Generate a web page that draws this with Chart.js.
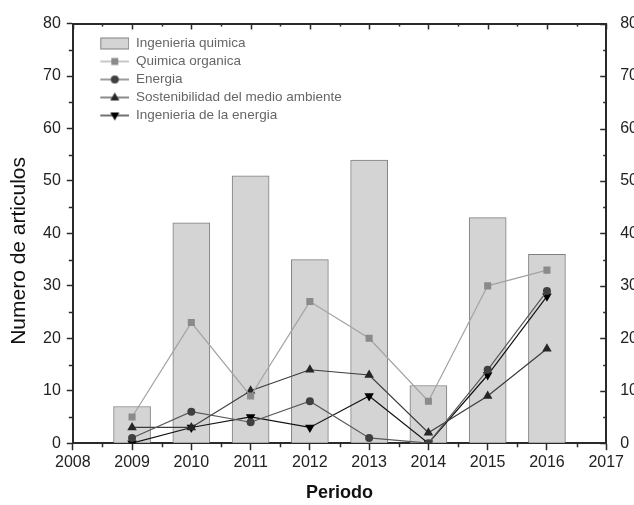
<!DOCTYPE html>
<html>
<head>
<meta charset="utf-8">
<script src="https://cdn.jsdelivr.net/npm/chart.js@4/dist/chart.umd.min.js"></script>
<style>
  html, body { margin: 0; padding: 0; background: #fff; overflow: hidden; }
  #wrap { position: absolute; left: 0; top: 0; width: 664px; height: 505px; }
</style>
</head>
<body>
<div id="wrap"><canvas id="chart" width="664" height="505"></canvas></div>
<script>
// data
const years = [2009, 2010, 2011, 2012, 2013, 2014, 2015, 2016];
const ingQuimica = [7, 42, 51, 35, 54, 11, 43, 36];
const quimOrganica = [5, 23, 9, 27, 20, 8, 30, 33];
const energia = [1, 6, 4, 8, 1, 0, 14, 29];
const sostenibilidad = [3, 3, 10, 14, 13, 2, 9, 18];
const ingEnergia = [0, 3, 5, 3, 9, 0, 13, 28];

const xTicks = [2008, 2017];
const yTicks = [0, 80];

const FONT = "'Liberation Sans', Arial, Helvetica, sans-serif";
const AXIS = '#2a2a2a';

const pts = (vals) => vals.map((v, i) => ({ x: years[i], y: v }));

// little legend icons: line with marker, or a filled box for the bars
function legendIcon(kind, lineColor, fill, shape) {
  const c = document.createElement('canvas');
  c.width = 52; c.height = 14;
  const g = c.getContext('2d');
  if (kind === 'bar') {
    g.fillStyle = fill;
    g.fillRect(23.5, 1.5, 29, 11);
    g.strokeStyle = '#7f7f7f';
    g.lineWidth = 1;
    g.strokeRect(23.5, 1.5, 28, 11);
    return c;
  }
  g.strokeStyle = lineColor;
  g.lineWidth = 1.2;
  g.beginPath(); g.moveTo(23, 7); g.lineTo(52, 7); g.stroke();
  g.fillStyle = fill;
  g.beginPath();
  const cx = 37.5, cy = 7;
  if (shape === 'rect') g.rect(cx - 3.5, cy - 3.5, 7, 7);
  else if (shape === 'circle') g.arc(cx, cy, 4, 0, Math.PI * 2);
  else if (shape === 'up') { g.moveTo(cx, cy - 5); g.lineTo(cx + 4.5, cy + 3); g.lineTo(cx - 4.5, cy + 3); }
  else { g.moveTo(cx, cy + 5); g.lineTo(cx + 4.5, cy - 3); g.lineTo(cx - 4.5, cy - 3); }
  g.closePath(); g.fill();
  return c;
}

const icons = [
  legendIcon('bar', null, '#d4d4d4'),
  legendIcon('line', '#a3a3a3', '#8a8a8a', 'rect'),
  legendIcon('line', '#595959', '#404040', 'circle'),
  legendIcon('line', '#3c3c3c', '#262626', 'up'),
  legendIcon('line', '#141414', '#000000', 'down')
];

// minor ticks + inward ticks on the mirrored top / right frame
const frameTicks = {
  id: 'frameTicks',
  afterDraw(chart) {
    const { ctx, chartArea: a } = chart;
    const x = chart.scales.x, y = chart.scales.y;
    ctx.save();
    ctx.strokeStyle = AXIS;
    ctx.lineWidth = 1.5;
    ctx.beginPath();
    for (let v = x.min; v <= x.max + 1e-9; v += 0.5) {
      const px = Math.round(x.getPixelForValue(v)) + 0.5;
      const major = Math.abs(v - Math.round(v)) < 1e-6;
      ctx.moveTo(px, a.top); ctx.lineTo(px, a.top + (major ? 6 : 3));
      if (!major) { ctx.moveTo(px, a.bottom); ctx.lineTo(px, a.bottom + 4); }
    }
    for (let v = y.min; v <= y.max + 1e-9; v += 5) {
      const py = Math.round(y.getPixelForValue(v)) + 0.5;
      const major = v % 10 === 0;
      ctx.moveTo(a.right, py); ctx.lineTo(a.right - (major ? 6 : 3), py);
      if (!major) { ctx.moveTo(a.left, py); ctx.lineTo(a.left - 4, py); }
    }
    ctx.stroke();
    ctx.restore();
  }
};

const lineDs = (label, vals, lineColor, fill, style, rot, r) => ({
  type: 'line',
  label,
  data: pts(vals),
  borderColor: lineColor,
  borderWidth: 1.2,
  backgroundColor: fill,
  pointBackgroundColor: fill,
  pointBorderColor: fill,
  pointBorderWidth: 0,
  pointStyle: style,
  pointRotation: rot,
  pointRadius: r,
  order: 0,
  tension: 0
});

new Chart(document.getElementById('chart'), {
  type: 'bar',
  data: {
    datasets: [
      {
        label: 'Ingenieria quimica',
        data: pts(ingQuimica),
        backgroundColor: '#d4d4d4',
        borderColor: '#7f7f7f',
        borderWidth: 1,
        barThickness: 37,
        order: 1
      },
      lineDs('Quimica organica', quimOrganica, '#a3a3a3', '#8a8a8a', 'rect', 0, 5),
      lineDs('Energia', energia, '#595959', '#404040', 'circle', 0, 4),
      lineDs('Sostenibilidad del medio ambiente', sostenibilidad, '#3c3c3c', '#262626', 'triangle', 0, 5.5),
      lineDs('Ingenieria de la energia', ingEnergia, '#141414', '#000000', 'triangle', 180, 5.5)
    ]
  },
  options: {
    responsive: false,
    devicePixelRatio: 1,
    animation: false,
    layout: { padding: { left: 7, right: 12, top: 13, bottom: 0 } },
    plugins: {
      tooltip: { enabled: false },
      legend: {
        position: 'chartArea',
        align: 'start',
        title: { display: true, text: '', padding: { top: 0, bottom: 31 }, font: { size: 1 } },
        labels: {
          usePointStyle: true,
          pointStyleWidth: 52,
          padding: 4.5,
          color: '#222',
          font: { size: 13.5, family: FONT },
          generateLabels: (chart) => chart.data.datasets.map((ds, i) => ({
            text: ds.label,
            pointStyle: icons[i],
            datasetIndex: i,
            hidden: false,
            lineWidth: 0,
            fillStyle: 'transparent',
            strokeStyle: 'transparent'
          }))
        }
      }
    },
    scales: {
      x: {
        type: 'linear',
        position: 'bottom',
        offset: false,
        min: xTicks[0],
        max: xTicks[1],
        grid: { offset: false, drawOnChartArea: false, tickLength: 7, tickColor: AXIS, tickWidth: 1.5 },
        border: { color: AXIS, width: 2 },
        ticks: { stepSize: 1, padding: 3, color: '#222', font: { size: 16, family: FONT }, maxRotation: 0, autoSkip: false,
                 callback: (v) => String(v) },
        title: { display: true, text: 'Periodo', color: '#111', font: { size: 18, weight: 'bold', family: FONT }, padding: { top: 7, bottom: 1 } }
      },
      xTop: {
        type: 'linear',
        position: 'top',
        min: xTicks[0],
        max: xTicks[1],
        grid: { drawOnChartArea: false, drawTicks: false },
        border: { color: AXIS, width: 2 },
        ticks: { display: false }
      },
      y: {
        type: 'linear',
        position: 'left',
        min: yTicks[0],
        max: yTicks[1],
        grid: { drawOnChartArea: false, tickLength: 6, tickColor: AXIS, tickWidth: 1.5 },
        border: { color: AXIS, width: 2 },
        ticks: { stepSize: 10, padding: 6, color: '#222', font: { size: 16, family: FONT } },
        // trailing spaces nudge the centred title down, as in the original figure
        title: { display: true, text: 'Numero de articulos      ', color: '#111', font: { size: 21, family: FONT }, padding: { top: 0, bottom: 4.8 } }
      },
      y2: {
        type: 'linear',
        position: 'right',
        min: yTicks[0],
        max: yTicks[1],
        grid: { drawOnChartArea: false, drawTicks: false },
        border: { color: AXIS, width: 2 },
        ticks: { stepSize: 10, padding: 14, color: '#222', font: { size: 16, family: FONT } }
      }
    }
  },
  plugins: [frameTicks]
});
</script>
</body>
</html>
